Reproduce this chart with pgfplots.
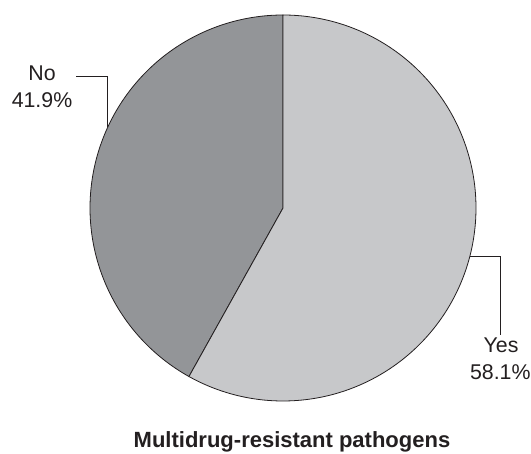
\documentclass[border=0pt]{standalone}
\usepackage{pgfplots}
\usepackage{pgfplotstable}
\pgfplotsset{compat=1.18}
\usepackage{fontspec}
\setmainfont{Liberation Sans}
\definecolor{noc}{RGB}{147,149,152}
\definecolor{yesc}{RGB}{199,200,202}
\definecolor{edge}{RGB}{35,31,32}
\pgfplotstableread{
label value
No 41.9
Yes 58.1
}\piedata
\begin{document}
\begin{tikzpicture}
\pgfplotstablegetelem{0}{value}\of\piedata
\let\vNo\pgfplotsretval
\pgfmathsetmacro\aNo{90+3.6*\vNo}
\def\cx{283}\def\cy{245}\def\rr{193}
\begin{axis}[name=ax,
  width=398.25pt, height=339.75pt, scale only axis,
  xmin=0, xmax=531, ymin=0, ymax=453,
  hide axis, clip=false]
\addplot[fill=noc, draw=edge, line width=0.6pt, domain=90:\aNo, samples=160, variable=\t]
  ({\cx+\rr*cos(\t)},{\cy+\rr*sin(\t)}) -- (\cx,\cy) -- cycle;
\addplot[fill=yesc, draw=edge, line width=0.6pt, domain=\aNo:450, samples=200, variable=\t]
  ({\cx+\rr*cos(\t)},{\cy+\rr*sin(\t)}) -- (\cx,\cy) -- cycle;
% leader lines
\draw[edge, line width=0.6pt] (76,376.3) -- (107.7,376.3) -- (107.7,325.7);
\draw[edge, line width=0.6pt] (470,196.7) -- (500,196.7) -- (500,118);
% labels
\node[anchor=base, text=edge, font=\fontsize{16}{19}\selectfont] at (42,372) {No};
\node[anchor=base, text=edge, font=\fontsize{16}{19}\selectfont] at (42,345.7) {41.9\%};
\node[anchor=base, text=edge, font=\fontsize{16}{19}\selectfont] at (501,100.3) {Yes};
\node[anchor=base, text=edge, font=\fontsize{16}{19}\selectfont] at (500.3,73.7) {58.1\%};
\node[anchor=base, text=edge, font=\fontsize{16.5}{19}\bfseries] at (292,5.5) {Multidrug-resistant pathogens};
\end{axis}
\pgfresetboundingbox
\path[use as bounding box] (ax.south west) rectangle (ax.north east);
\end{tikzpicture}
\end{document}
